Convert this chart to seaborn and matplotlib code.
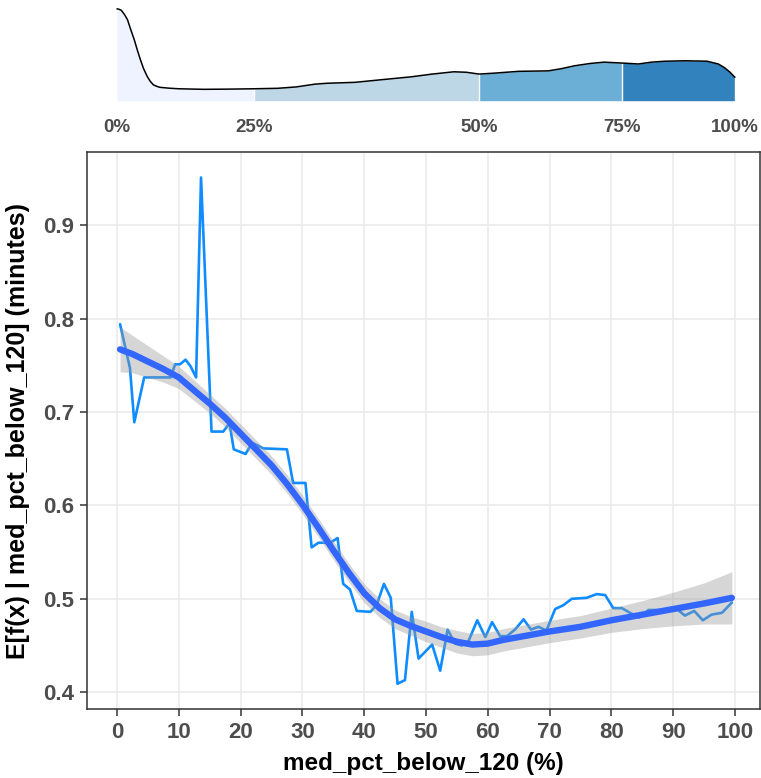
import matplotlib
matplotlib.use('Agg')
import matplotlib.pyplot as plt
import seaborn as sns

# partial dependence curve
pd_x = [0.5, 2.1, 2.8, 4.4, 8.7, 9.4, 10.2, 11.1, 11.9, 12.8, 13.6, 15.3, 17.2, 18.2,
        18.9, 20.8, 21.9, 23.7, 27.5, 28.5, 30.5, 31.5, 32.6, 34.5, 35.7, 36.6, 37.7,
        38.8, 41.0, 42.0, 43.2, 44.3, 45.4, 46.6, 47.7, 48.8, 51.0, 52.3, 53.5, 54.7,
        55.8, 56.9, 58.3, 59.6, 60.7, 62.0, 63.1, 64.4, 65.8, 67.0, 68.2, 69.5, 70.9,
        72.2, 73.6, 76.0, 77.6, 79.0, 80.3, 81.7, 83.0, 84.5, 86.0, 89.0, 90.6, 91.9,
        93.4, 94.8, 96.2, 97.9, 99.5]
pd_y = [0.794, 0.747, 0.689, 0.737, 0.737, 0.751, 0.751, 0.756, 0.749, 0.737, 0.951,
        0.679, 0.679, 0.688, 0.660, 0.655, 0.667, 0.661, 0.660, 0.624, 0.624, 0.555,
        0.560, 0.560, 0.565, 0.516, 0.510, 0.487, 0.486, 0.493, 0.516, 0.501, 0.409,
        0.413, 0.486, 0.436, 0.451, 0.423, 0.467, 0.452, 0.450, 0.455, 0.477, 0.459,
        0.475, 0.460, 0.460, 0.467, 0.478, 0.467, 0.470, 0.466, 0.489, 0.493, 0.500,
        0.501, 0.505, 0.504, 0.490, 0.490, 0.485, 0.480, 0.488, 0.488, 0.489, 0.482,
        0.487, 0.477, 0.483, 0.485, 0.496]

# smoothed fit and half width of its confidence band
fit_x = [0.5, 2.5, 5, 7.5, 10, 12.5, 15, 17.5, 20, 22.5, 25, 27.5, 30, 32.5, 35, 37.5,
         40, 42.5, 45, 47.5, 50, 52.5, 55, 57.5, 60, 62.5, 65, 67.5, 70, 75, 80, 85,
         90, 95, 99.5]
fit_y = [0.767, 0.762, 0.754, 0.746, 0.737, 0.723, 0.709, 0.694, 0.677, 0.660, 0.643,
         0.623, 0.601, 0.577, 0.552, 0.528, 0.506, 0.490, 0.478, 0.471, 0.465, 0.459,
         0.454, 0.451, 0.452, 0.456, 0.459, 0.462, 0.465, 0.470, 0.477, 0.483, 0.489,
         0.495, 0.501]
fit_se = [0.024, 0.020, 0.017, 0.014, 0.012, 0.011, 0.010, 0.010, 0.010, 0.010, 0.010,
          0.010, 0.010, 0.010, 0.010, 0.010, 0.010, 0.010, 0.010, 0.010, 0.011, 0.011,
          0.012, 0.012, 0.012, 0.012, 0.012, 0.012, 0.012, 0.012, 0.013, 0.015, 0.018,
          0.022, 0.028]

# distribution of the feature (relative density) shown above the plot
dens_x = [0, 0.3, 0.7, 1.2, 1.7, 2.2, 2.8, 3.3, 3.8, 4.3, 4.9, 5.4, 5.9, 6.4, 6.9, 8.5,
          10, 14, 18, 22.2, 26, 29, 32, 34, 38.5, 43, 47.6, 51, 54.5, 56.5, 58.6, 61,
          65, 69.8, 72, 74, 76.5, 78.8, 81.8, 84.4, 86.5, 88.6, 92, 95.5, 97.3, 98.3,
          99.2, 100]
dens_y = [1.0, 0.997, 0.985, 0.94, 0.883, 0.78, 0.664, 0.55, 0.445, 0.35, 0.263, 0.21,
          0.172, 0.158, 0.146, 0.136, 0.13, 0.124, 0.126, 0.13, 0.135, 0.15, 0.18, 0.19,
          0.2, 0.23, 0.26, 0.29, 0.315, 0.31, 0.29, 0.30, 0.32, 0.325, 0.35, 0.38,
          0.405, 0.42, 0.41, 0.40, 0.42, 0.43, 0.435, 0.43, 0.40, 0.36, 0.31, 0.255]
quant_pos = [0, 22.2, 58.6, 81.8, 100]
quant_labels = ['0%', '25%', '50%', '75%', '100%']
quant_colors = ['#eff3ff', '#bdd7e7', '#6baed6', '#3182bd']

sns.set_style('white')
plt.rcParams['font.family'] = ['Liberation Sans', 'DejaVu Sans']
plt.rcParams['font.weight'] = 'bold'

W, H = 761, 778
fig = plt.figure(figsize=(W / 100, H / 100), dpi=100)
ax = fig.add_axes([86.7 / W, 1 - 709 / H, (760.3 - 86.7) / W, (709 - 152.3) / H])
ax_top = fig.add_axes([86.7 / W, 1 - 100.7 / H, (760.3 - 86.7) / W, 92.7 / H])

xlim = (-4.9, 104.1)

# main panel
sns.lineplot(x=pd_x, y=pd_y, ax=ax, color='#0F8CFF', linewidth=1.9, estimator=None, zorder=3)
lower = [f - s for f, s in zip(fit_y, fit_se)]
upper = [f + s for f, s in zip(fit_y, fit_se)]
ax.fill_between(fit_x, lower, upper, color='#999999', alpha=0.4, linewidth=0, zorder=4)
sns.lineplot(x=fit_x, y=fit_y, ax=ax, color='#3366FF', linewidth=4.6, estimator=None, zorder=5)

ax.set_xlim(*xlim)
ax.set_ylim(0.382, 0.978)
ax.set_xticks(range(0, 101, 10))
ax.set_yticks([0.4, 0.5, 0.6, 0.7, 0.8, 0.9])
ax.set_yticklabels(['0.4', '0.5', '0.6', '0.7', '0.8', '0.9'])
ax.grid(True, color='#EBEBEB', linewidth=1.2)
ax.set_axisbelow(True)
for sp in ax.spines.values():
    sp.set_color('#333333')
    sp.set_linewidth(1.1)
ax.tick_params(axis='both', direction='out', length=5, width=1.1, color='#333333',
               labelcolor='#4D4D4D', labelsize=16, pad=4, bottom=True, left=True)
ax.set_xlabel('med_pct_below_120 (%)', fontsize=17.5, fontweight='bold', color='black')
ax.set_ylabel('E[f(x) | med_pct_below_120] (minutes)', fontsize=18,
              fontweight='bold', color='black')
ax.xaxis.set_label_coords(0.5, -0.078)
ax.yaxis.set_label_coords(-0.084, 0.5)

# distribution strip on top, shaded by quartile
for i, col in enumerate(quant_colors):
    lo, hi = quant_pos[i], quant_pos[i + 1]
    seg_x = [x for x in dens_x if lo <= x <= hi]
    seg_y = [y for x, y in zip(dens_x, dens_y) if lo <= x <= hi]
    ax_top.fill_between(seg_x, 0, seg_y, color=col, linewidth=0)
for q in quant_pos[1:]:
    ax_top.axvline(q, ymax=dens_y[dens_x.index(q)] / 1.01, color='white', linewidth=1)
sns.lineplot(x=dens_x, y=dens_y, ax=ax_top, color='black', linewidth=1.1, estimator=None)
ax_top.set_xlim(*xlim)
ax_top.set_ylim(0, 1.01)
ax_top.axis('off')
for q, lab in zip(quant_pos, quant_labels):
    ax_top.text(q, -0.29, lab, transform=ax_top.get_xaxis_transform(), ha='center',
                va='center', fontsize=13.5, fontweight='bold', color='#4D4D4D')

fig.savefig('out.png', dpi=100)
